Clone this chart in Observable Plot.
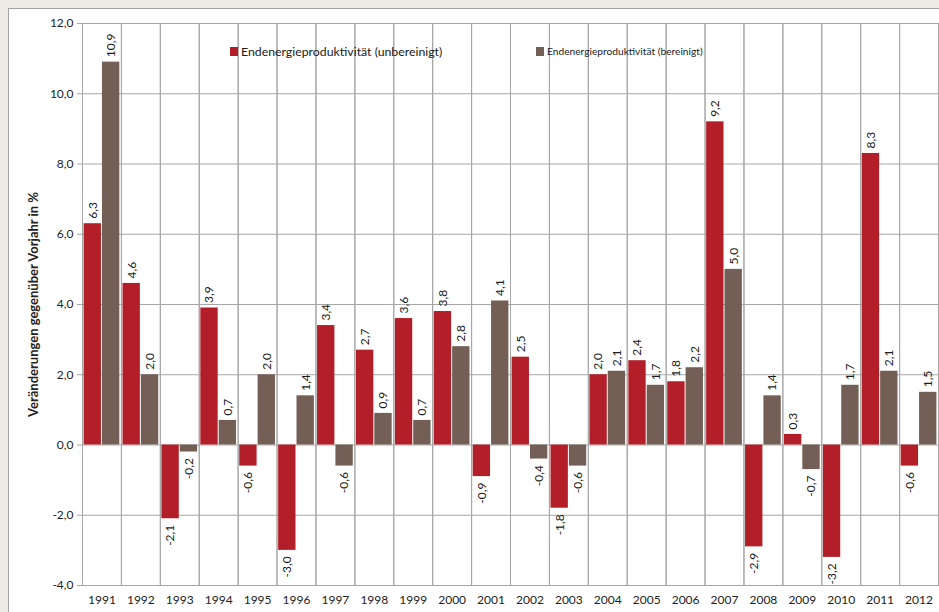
<!DOCTYPE html>
<html><head><meta charset="utf-8">
<script src="https://cdn.jsdelivr.net/npm/d3@7"></script>
<script src="https://cdn.jsdelivr.net/npm/@observablehq/plot@0.6"></script>
<style>
body{margin:0;background:#eeebe5;font-family:Lato,"Noto Sans",sans-serif;}
#wrap{position:relative;width:939px;height:612px;overflow:hidden;}
#panel{position:absolute;left:8px;top:8px;width:960px;height:640px;background:#fff;border:1.5px solid #a3a3a3;box-sizing:border-box;}
#chart{position:absolute;left:0;top:0;}
.leg{position:absolute;display:flex;align-items:center;color:#1a1a1a;white-space:nowrap;}
.sw{display:inline-block;width:8px;height:9px;margin-right:3px;}
#chart svg [aria-label="y-axis label"] text{font-weight:bold;font-size:13px;}
</style></head>
<body><div id="wrap"><div id="panel"></div><div id="chart"></div>
<div class="leg" style="left:230px;top:44px;font-size:12.3px;"><span class="sw" style="background:#b21f28"></span>Endenergieproduktivität (unbereinigt)</div>
<div class="leg" style="left:536px;top:45px;font-size:10.2px;"><span class="sw" style="background:#735f55"></span>Endenergieproduktivität (bereinigt)</div>
</div>
<script>
const years = [1991,1992,1993,1994,1995,1996,1997,1998,1999,2000,2001,2002,2003,2004,2005,2006,2007,2008,2009,2010,2011,2012];
const unbereinigt = [6.3,4.6,-2.1,3.9,-0.6,-3.0,3.4,2.7,3.6,3.8,-0.9,2.5,-1.8,2.0,2.4,1.8,9.2,-2.9,0.3,-3.2,8.3,-0.6];
const bereinigt = [10.9,2.0,-0.2,0.7,2.0,1.4,-0.6,0.9,0.7,2.8,4.1,-0.4,-0.6,2.1,1.7,2.2,5.0,1.4,-0.7,1.7,2.1,1.5];
const seriesKeys = ["unbereinigt","bereinigt"];
const yTicks = [-4,-2,0,2,4,6,8,10,12];
const yLabel = "Veränderungen gegenüber Vorjahr in %";

const data = years.flatMap((yr,i)=>[
  {year:yr, s:"unbereinigt", v:unbereinigt[i]},
  {year:yr, s:"bereinigt", v:bereinigt[i]}
]);
const fmt = v => v.toFixed(1).replace(".", ",");
const grid = "#a6a6a6";

const chart = Plot.plot({
  width:939, height:612,
  marginLeft:82, marginRight:1, marginTop:23, marginBottom:27,
  style:{fontFamily:"Lato, 'Noto Sans', sans-serif", fontSize:"12px", color:"#222", background:"transparent"},
  fx:{domain:years, padding:0, round:false, label:null},
  x:{domain:seriesKeys, paddingInner:0.055, paddingOuter:0.087, round:false, axis:null},
  y:{domain:[-4,12]},
  color:{domain:seriesKeys, range:["#b21f28","#735f55"]},
  marks:[
    Plot.gridY(yTicks,{stroke:grid, strokeOpacity:1}),
    Plot.frame({stroke:grid}),
    Plot.axisY(yTicks,{tickFormat:fmt, tickSize:5, tickPadding:4, stroke:grid, label:yLabel, labelAnchor:"center", labelArrow:"none", labelOffset:54, fontSize:12}),
    Plot.axisFx({anchor:"bottom", tickSize:0, tickPadding:10, tickFormat:d=>String(d), label:null, fontSize:12}),
    Plot.barY(data,{fx:"year", x:"s", y:"v", fill:"s"}),
    Plot.text(data.filter(d=>d.v>=0),{fx:"year", x:"s", y:"v", text:d=>fmt(d.v), rotate:-90, textAnchor:"start", dy:-5, fontSize:12, fill:"#1a1a1a"}),
    Plot.text(data.filter(d=>d.v<0),{fx:"year", x:"s", y:"v", text:d=>fmt(d.v), rotate:-90, textAnchor:"end", dy:6, fontSize:12, fill:"#1a1a1a"})
  ]
});
document.getElementById("chart").append(chart);
</script></body></html>
